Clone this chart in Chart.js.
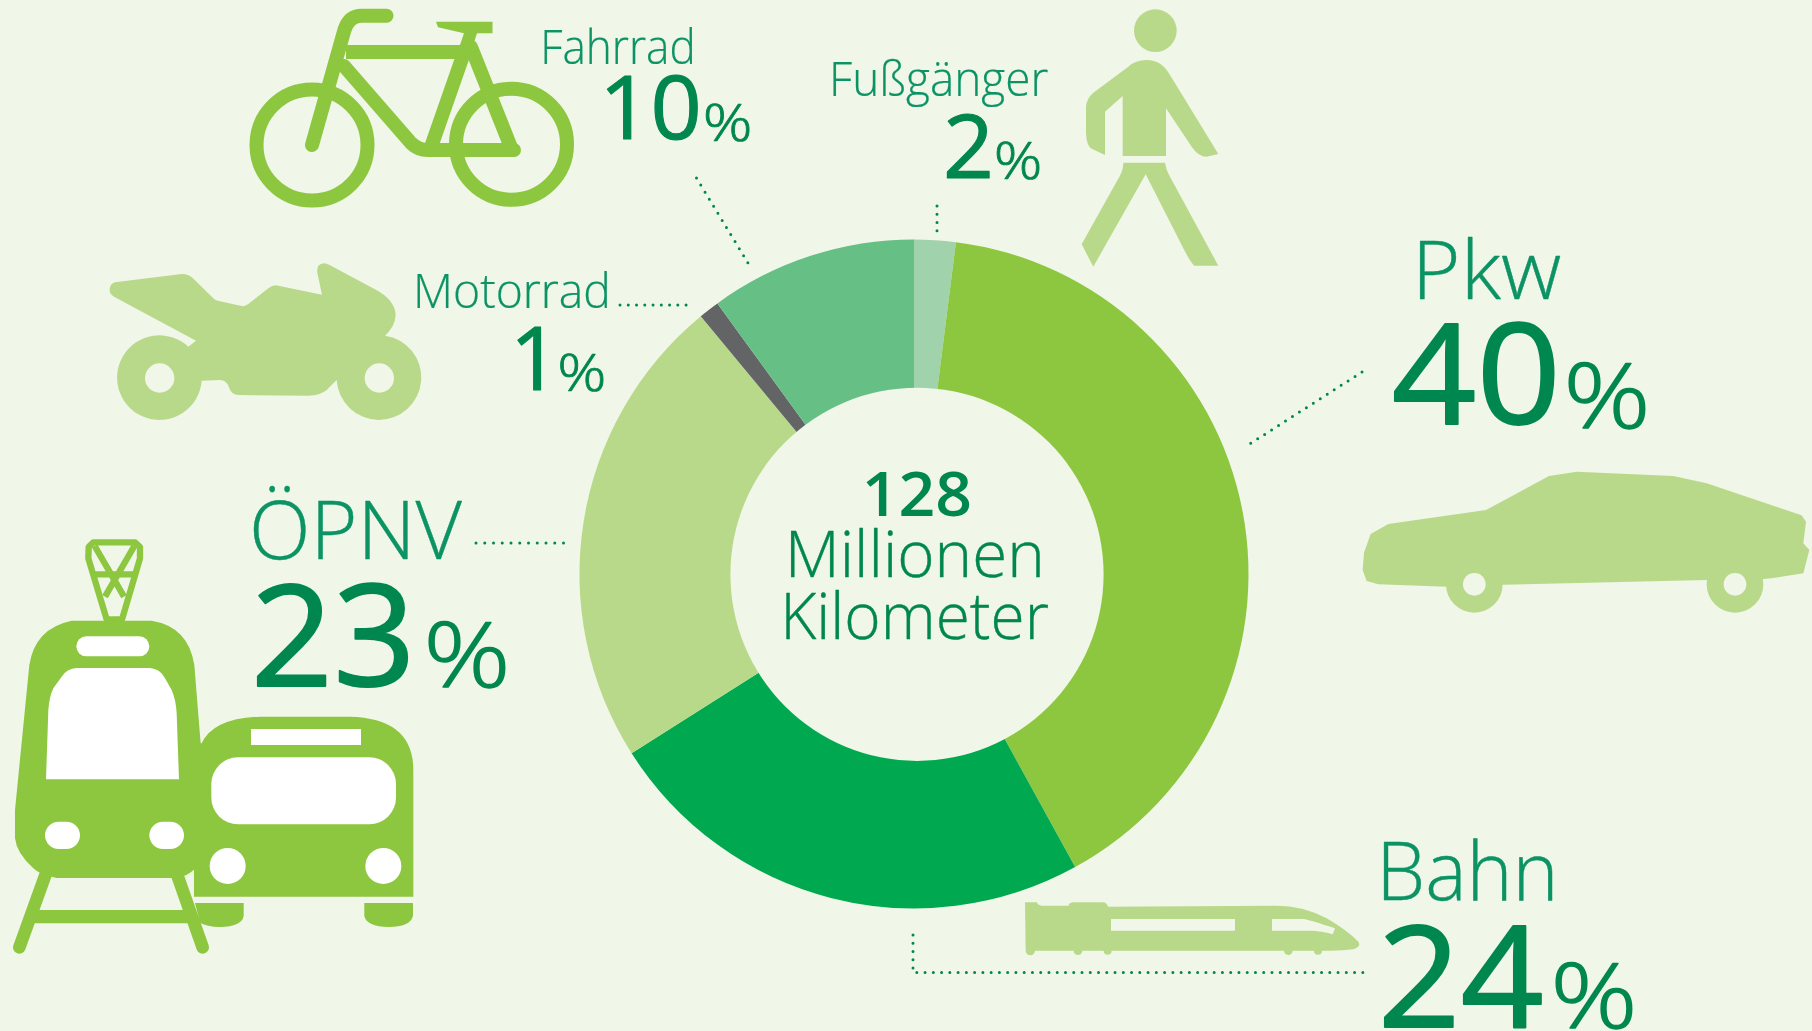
<!DOCTYPE html>
<html lang="de">
<head>
<meta charset="utf-8">
<title>Verkehrsmittel</title>
<script src="https://cdn.jsdelivr.net/npm/chart.js@4"></script>
<style>
html,body{margin:0;padding:0;background:#f0f6e8;width:1812px;height:1031px;overflow:hidden}
#wrap{position:relative;width:1812px;height:1031px}
canvas{position:absolute;left:0;top:0}
svg{position:absolute;left:0;top:0;pointer-events:none}
</style>
</head>
<body>
<div id="wrap">
<canvas id="c" width="1812" height="1031"></canvas>
<svg width="1812" height="1031" viewBox="0 0 1812 1031">
  <!-- leaders -->
  <g fill="none" stroke="#008751" stroke-width="3" stroke-linecap="round" stroke-dasharray="0 8.26">
    <path d="M696.5 178L748 263"/>
    <path d="M620 305H691"/>
    <path d="M937 206V231"/>
    <path d="M1362 372L1246.5 446"/>
    <path d="M476 543H564" stroke-dasharray="0 8.75"/>
    <path d="M913 935V972.5H1365"/>
  </g>
  <!-- bicycle -->
  <g fill="none" stroke="#8dc63f" stroke-width="14">
    <circle cx="312" cy="145" r="55.5"/>
    <circle cx="511.5" cy="144.3" r="55.5"/>
    <path d="M386.5 15.7H361.6Q349 15.7 344.4 30L312 145" stroke-linecap="round"/>
    <path d="M346 52H469"/>
    <path d="M344 66L411 143Q418 150 428 150H514" stroke-linecap="round" stroke-linejoin="round"/>
    <path d="M466 47L430 150"/>
    <path d="M471 47L512 150" stroke-linecap="round"/>
    <path d="M436 21.7H492.5V33.3H477L472.6 46.7L460 45L464 33.3L438 27.3Z" fill="#8dc63f" stroke="none"/>
  </g>
  <!-- motorcycle -->
  <g transform="translate(100 250) scale(.33333)">
    <path fill="#b9d98a" d="M45 97L245 72Q268 72 282 88L340 145Q346 152 360 154L425 168Q435 170 445 162L505 115Q520 103 535 107L666 134L652 68Q648 42 672 40Q680 40 690 46L825 118Q885 150 887 195Q885 230 855 257A127 127 0 1 1 710 390L680 420Q660 437 625 437L415 435Q395 435 388 415Q380 390 360 390L305 392A127 127 0 1 1 265 290L288 272L42 140Q25 130 30 112Q33 100 45 97Z"/>
    <circle cx="179" cy="384" r="44" fill="#f0f6e8"/>
    <circle cx="838" cy="384" r="44" fill="#f0f6e8"/>
  </g>
  <!-- pedestrian -->
  <g transform="translate(800 0) scale(.33333)" fill="#b9d98a">
    <circle cx="1066" cy="92" r="64"/>
    <path d="M1040 180Q1085 180 1110 225L1255 462L1220 470Q1195 470 1175 440L1098 325V468H968V288L915 335V465L872 445Q860 435 858 400V320Q860 295 880 278L985 200Q1005 180 1040 180Z"/>
    <path d="M970 488H1095Q1098 510 1110 530L1255 797H1183Q1170 785 1150 745L1037 523L880 800L845 733L958 530Q970 510 970 488Z"/>
  </g>
  <!-- car -->
  <g transform="translate(1350 220) scale(.33333)">
    <path fill="#b9d98a" d="M50 1083L38 1050L42 998L62 942L115 912L408 870L597 768L680 755L970 768L1070 790L1355 886L1368 905L1360 970L1378 990L1360 1060L1265 1075L1240 1077L1070 1080L458 1094L289 1100L85 1093Z"/>
    <circle cx="373" cy="1093" r="85" fill="#b9d98a"/>
    <circle cx="1155" cy="1093" r="85" fill="#b9d98a"/>
    <circle cx="373" cy="1093" r="34" fill="#f0f6e8"/>
    <circle cx="1155" cy="1093" r="34" fill="#f0f6e8"/>
  </g>
  <!-- high-speed train -->
  <g transform="translate(1010 890) scale(.33333)">
    <path fill="#b9d98a" d="M45 37H80Q85 47 95 47H175Q180 37 190 37H280Q288 37 295 50L800 47Q880 47 950 85Q1010 120 1045 155Q1055 170 1030 178Q1000 182 960 182H936A12 12 0 0 1 912 182H848A13 13 0 0 1 822 182H305A12 12 0 0 1 281 182H217A13 13 0 0 1 191 182H75A14 14 0 0 1 47 182Z"/>
    <path fill="#f0f6e8" d="M303 87H675V122H303ZM786 87H880Q900 90 975 115L968 133Q935 122 900 122H786Z"/>
  </g>
  <!-- tram and bus -->
  <g transform="scale(.33333) translate(0 1500)">
    <g fill="none" stroke="#8dc63f" stroke-width="19" stroke-linejoin="round">
      <path d="M280 127H405L420 141L420 175L366 358H320L265 175L266 141Z"/>
      <path d="M284 138L372 290M403 138L315 290M275 223H410"/>
    </g>
    <g fill="none" stroke="#8dc63f" stroke-width="38" stroke-linecap="round">
      <path d="M138 1120L58 1342M530 1120L608 1342"/>
    </g>
    <path fill="#8dc63f" d="M100 1230H570V1270H100Z"/>
    <path fill="#8dc63f" d="M215 362H455Q565 380 583 495L610 830V1050Q600 1120 530 1134H170Q120 1125 100 1105Q50 1060 45 1015V930L88 495Q105 385 215 362Z"/>
    <path fill="#8dc63f" d="M605 730Q640 655 780 650H1050Q1240 655 1240 810V1190H582V730Z"/>
    <path fill="#8dc63f" d="M585 1209H731V1248Q725 1280 660 1281Q620 1280 600 1268ZM1093 1209H1239V1248Q1230 1281 1166 1281Q1100 1280 1093 1248Z"/>
    <g fill="#fff">
      <rect x="229" y="409" width="219" height="60" rx="30"/>
      <path d="M230 504H450Q480 506 495 535L515 570Q528 600 530 640L537 838H138L145 630Q148 590 160 565L185 530Q200 506 230 504Z"/>
      <rect x="135" y="965" width="105" height="82" rx="41"/>
      <rect x="448" y="965" width="104" height="82" rx="41"/>
      <rect x="753" y="687" width="330" height="48"/>
      <rect x="634" y="772" width="554" height="201" rx="80"/>
      <circle cx="683" cy="1098" r="54"/>
      <circle cx="1150" cy="1098" r="54"/>
    </g>
  </g>
</svg>
</div>
<script>
// ---- data ----
const categories = ["Fußgänger", "Pkw", "Bahn", "ÖPNV", "Motorrad", "Fahrrad"];
const shares = [2, 40, 24, 23, 1, 10];
const sliceColors = ["#a0d3ab", "#8dc63f", "#00a94f", "#b9d98a", "#636466", "#66bf85"];
const centerLines = ["128", "Millionen", "Kilometer"];
const unit = "%";

// ---- text placement: [left, baseline, ink width, font size] ----
const namePlace = [[833,96,215,47],[1420,298.7,141,82],[1384,900,169,81],[254,559,208,81],[417,308,190,47],[544,64,148,47]];
const valuePlace = [[947,177.7,42,87],[1394,424,160,139],[1384,1026.6,157,141],[257,686,151,141],[517,390,24,87],[606.5,139.3,91.5,87]];
const unitPlace = [[996,178.5,44,52],[1568,428,77,90],[1555,1028,77,90],[428,687,77,90],[559.5,391,44.5,52],[705,140.5,45,52]];
const centerPlace = [[866,515.7,104,61],[790.7,577.3,249.3,64],[786,638.7,262,64]];
const FONT = '"Open Sans"';
const NAME_COLOR = "#0b9364", VALUE_COLOR = "#00874f", BG = "#f0f6e8";

function fitText(ctx, str, p, weight, color, boldEm) {
  ctx.save();
  ctx.font = weight + " " + p[3] + "px " + FONT;
  ctx.textAlign = "left";
  ctx.textBaseline = "alphabetic";
  ctx.fillStyle = color;
  ctx.strokeStyle = color;
  ctx.lineJoin = "round";
  const m = ctx.measureText(str);
  const ink = m.actualBoundingBoxLeft + m.actualBoundingBoxRight;
  const sx = p[2] / ink;
  ctx.translate(p[0], p[1]);
  ctx.scale(sx, 1);
  ctx.fillText(str, m.actualBoundingBoxLeft, 0);
  if (boldEm) {
    ctx.lineWidth = boldEm * p[3];
    ctx.strokeText(str, m.actualBoundingBoxLeft, 0);
  }
  ctx.restore();
}

const infographicText = {
  id: "infographicText",
  afterDatasetsDraw(chart) {
    const ctx = chart.ctx;
    ctx.save();
    ctx.fillStyle = BG;
    ctx.beginPath();
    ctx.arc(917, 574.3, 186.6, 0, Math.PI * 2);
    ctx.fill();
    ctx.restore();
    categories.forEach((name, i) => {
      fitText(ctx, name, namePlace[i], 300, NAME_COLOR, 0.005);
      fitText(ctx, String(shares[i]), valuePlace[i], 400, VALUE_COLOR, 0.013);
      fitText(ctx, unit, unitPlace[i], 300, VALUE_COLOR, 0.014);
    });
    centerLines.forEach((t, i) => fitText(ctx, t, centerPlace[i], i === 0 ? 600 : 300, VALUE_COLOR, i === 0 ? 0 : 0.006));
  }
};

new Chart(document.getElementById("c"), {
  type: "doughnut",
  data: { labels: categories, datasets: [{ data: shares, backgroundColor: sliceColors, borderWidth: 0 }] },
  options: {
    responsive: false,
    animation: false,
    cutout: 178,
    rotation: 0,
    layout: { padding: { left: 579.5, right: 563.5, top: 239.5, bottom: 122.5 } },
    plugins: { legend: { display: false }, tooltip: { enabled: false } }
  },
  plugins: [infographicText]
});
</script>
</body>
</html>
